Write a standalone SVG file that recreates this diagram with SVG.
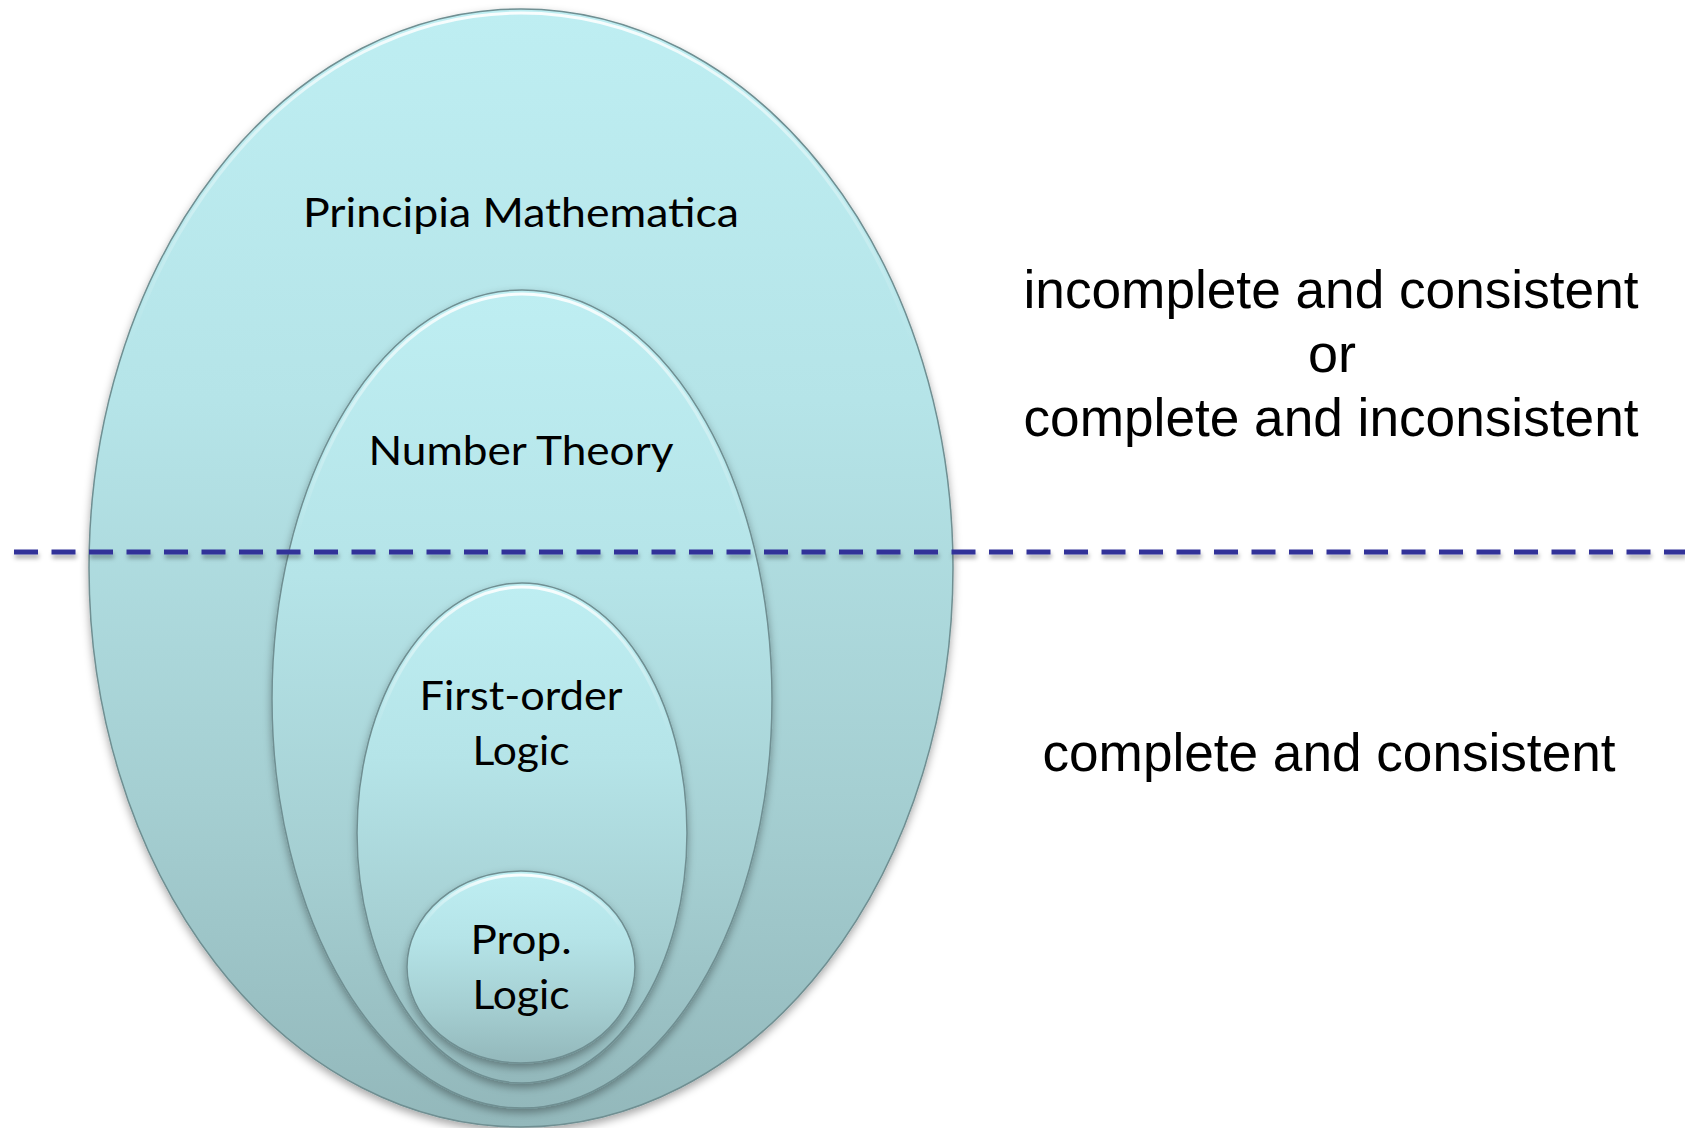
<svg xmlns="http://www.w3.org/2000/svg" width="1685" height="1128" viewBox="0 0 1685 1128">
<style>
.set{stroke:#6f8f92;stroke-width:1.5}
.rim{fill:none;stroke:url(#rimg);stroke-width:3}
.lbl{font-family:Lato,"Open Sans","Liberation Sans",sans-serif;font-size:41px;fill:#000;text-anchor:middle}
.note{font-family:"Liberation Sans",Arial,sans-serif;font-size:54px;fill:#000;text-anchor:middle}
</style>
<defs>
<linearGradient id="fillg" x1="0" y1="0" x2="0" y2="1">
<stop offset="0" stop-color="#beeef2"/>
<stop offset="0.35" stop-color="#b5e4e8"/>
<stop offset="0.7" stop-color="#a5cfd2"/>
<stop offset="1" stop-color="#93b8bb"/>
</linearGradient>
<linearGradient id="rimg" x1="0" y1="0" x2="0" y2="1">
<stop offset="0" stop-color="#ffffff" stop-opacity="0.9"/>
<stop offset="0.12" stop-color="#ffffff" stop-opacity="0.4"/>
<stop offset="0.3" stop-color="#ffffff" stop-opacity="0"/>
</linearGradient>
<filter id="sh" x="-10%" y="-10%" width="120%" height="125%">
<feDropShadow dx="0" dy="4" stdDeviation="4" flood-color="#000" flood-opacity="0.35"/>
</filter>
<filter id="dsh" filterUnits="userSpaceOnUse" x="0" y="530" width="1685" height="50">
<feDropShadow dx="1" dy="4" stdDeviation="2" flood-color="#000" flood-opacity="0.3"/>
</filter>
</defs>

<g id="principia-mathematica">
<ellipse class="set" cx="521" cy="568" rx="432" ry="559" fill="url(#fillg)" filter="url(#sh)"/>
<ellipse class="rim" cx="521" cy="568" rx="428" ry="555"/>
<text class="lbl" x="521" y="227" textLength="436" lengthAdjust="spacingAndGlyphs">Principia Mathematica</text>
</g>

<g id="number-theory">
<ellipse class="set" cx="522" cy="699" rx="250" ry="409" fill="url(#fillg)" filter="url(#sh)"/>
<ellipse class="rim" cx="522" cy="699" rx="246" ry="405"/>
<text class="lbl" x="521" y="465" textLength="305" lengthAdjust="spacingAndGlyphs">Number Theory</text>
</g>

<g id="first-order-logic">
<ellipse class="set" cx="522" cy="833" rx="165" ry="250" fill="url(#fillg)" filter="url(#sh)"/>
<ellipse class="rim" cx="522" cy="833" rx="161" ry="246"/>
<text class="lbl" x="521" y="710" textLength="203" lengthAdjust="spacingAndGlyphs">First-order</text>
<text class="lbl" x="521" y="765" textLength="97" lengthAdjust="spacingAndGlyphs">Logic</text>
</g>

<g id="prop-logic">
<ellipse class="set" cx="521" cy="967" rx="114" ry="96" fill="url(#fillg)" filter="url(#sh)"/>
<ellipse class="rim" cx="521" cy="967" rx="110" ry="92"/>
<text class="lbl" x="521" y="954" textLength="101" lengthAdjust="spacingAndGlyphs">Prop.</text>
<text class="lbl" x="521" y="1009" textLength="97" lengthAdjust="spacingAndGlyphs">Logic</text>
</g>

<g id="connectors">
<line x1="14" y1="552" x2="1685" y2="552" stroke="#333399" stroke-width="5" stroke-dasharray="24 13.5" filter="url(#dsh)"/>
</g>

<g id="upper-note">
<text class="note" x="1331" y="308" textLength="615" lengthAdjust="spacingAndGlyphs">incomplete and consistent</text>
<text class="note" x="1332" y="372">or</text>
<text class="note" x="1331" y="436" textLength="615" lengthAdjust="spacingAndGlyphs">complete and inconsistent</text>
</g>

<g id="lower-note">
<text class="note" x="1329" y="771" textLength="573" lengthAdjust="spacingAndGlyphs">complete and consistent</text>
</g>
</svg>
